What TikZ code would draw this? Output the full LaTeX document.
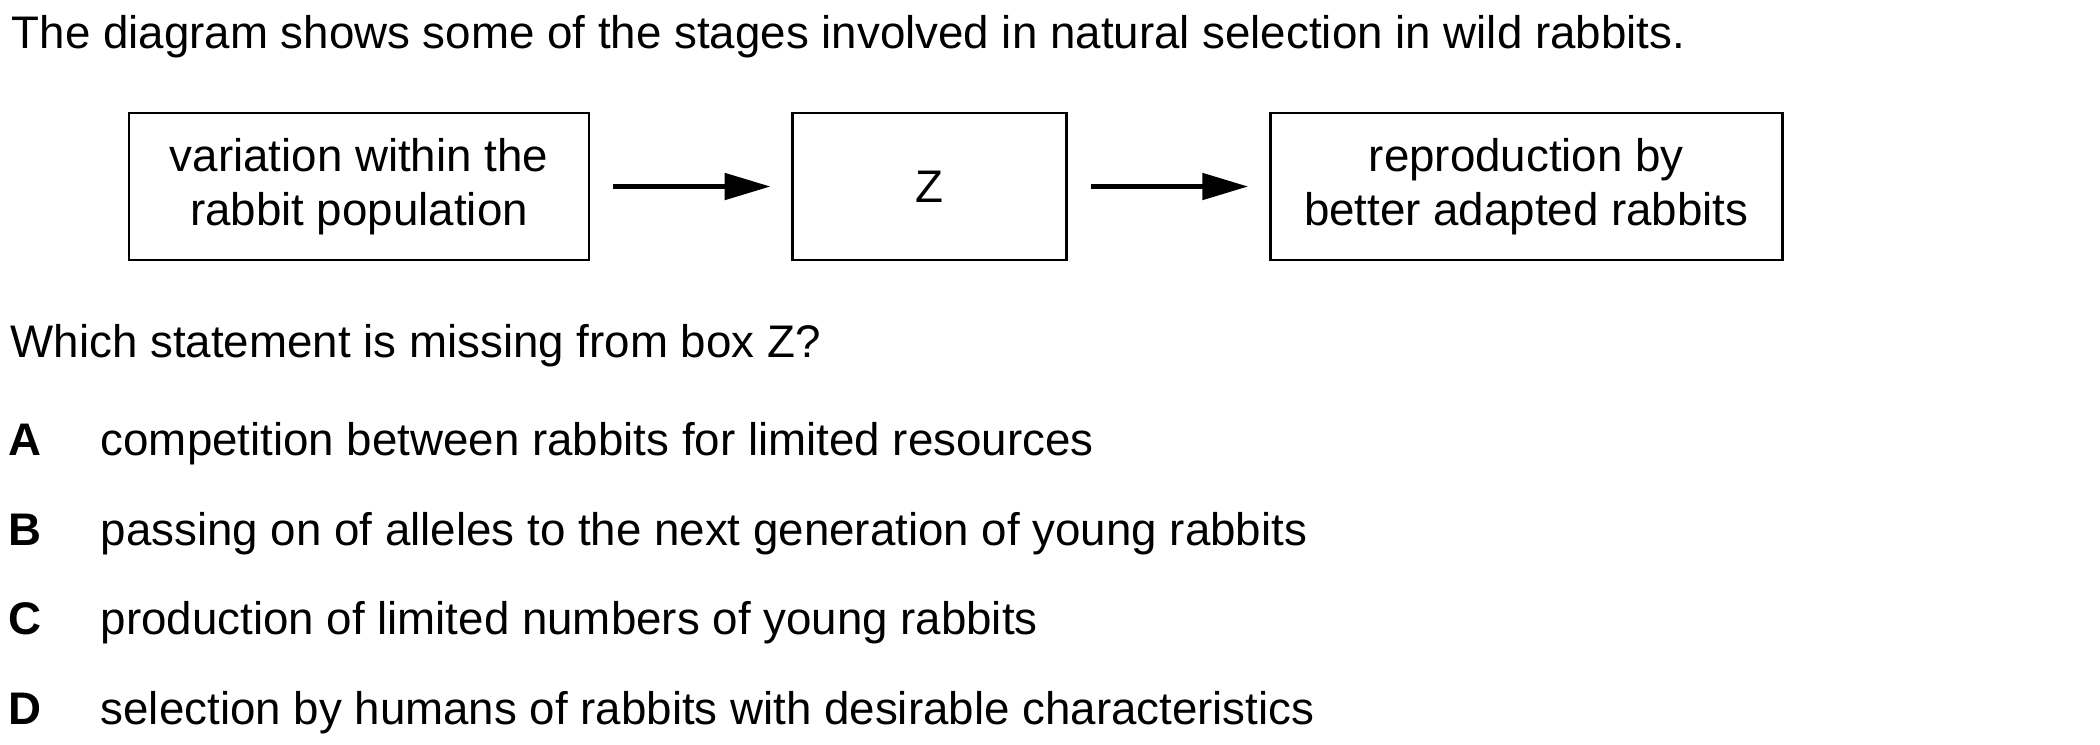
\documentclass[tikz,border=0pt]{standalone}
\usepackage{fontspec}
\setmainfont{Liberation Sans}
\usetikzlibrary{arrows.meta,positioning}
\tikzset{
    %Define standard arrow tip
    >={Triangle[length=13pt,width=7.5pt]},
    %Define style for boxes
    stagebox/.style={
           rectangle,
           draw=black, line width=0.75pt,
           minimum height=1.47cm,
           align=center,
           font=\fontsize{13}{15.4}\selectfont},
    % Define arrow style
    pil/.style={
           ->,
           line width=1.15pt,
           shorten <=0.23cm,
           shorten >=0.21cm},
    % Define style for lines of text
    textline/.style={
           anchor=base west,
           inner sep=0pt,
           font=\fontsize{13}{15}\selectfont},
    letter/.style={
           textline,
           font=\fontsize{13}{15}\selectfont\bfseries}
}

\begin{document}
\begin{tikzpicture}[node distance=2.01cm]
\useasboundingbox (0,0) rectangle (21,-7.44);
 %text above
\node[textline] (intro) at (0.11,-0.48) {The diagram shows some of the stages involved in natural selection in wild rabbits.};
 %boxes
\node[stagebox, minimum width=4.6cm] (variation) at (3.59,-1.865) {variation within the\\rabbit population};
\node[stagebox, minimum width=2.74cm, right = of variation] (Z) {Z};
\node[stagebox, minimum width=5.12cm, right = of Z] (reproduction) {reproduction by\\better adapted rabbits};
\path
	(variation) edge[pil] (Z)
	(Z) edge[pil] (reproduction);
 %question
\node[textline] (question) at (0.1,-3.57) {Which statement is missing from box Z?};
\node[letter] (A) at (0.08,-4.55) {A};
\node[textline] (optA) at (1.0,-4.55) {competition between rabbits for limited resources};
\node[letter] (B) at (0.08,-5.45) {B};
\node[textline] (optB) at (1.0,-5.45) {passing on of alleles to the next generation of young rabbits};
\node[letter] (C) at (0.08,-6.34) {C};
\node[textline] (optC) at (1.0,-6.34) {production of limited numbers of young rabbits};
\node[letter] (D) at (0.08,-7.24) {D};
\node[textline] (optD) at (1.0,-7.24) {selection by humans of rabbits with desirable characteristics};

\end{tikzpicture}
\end{document}
